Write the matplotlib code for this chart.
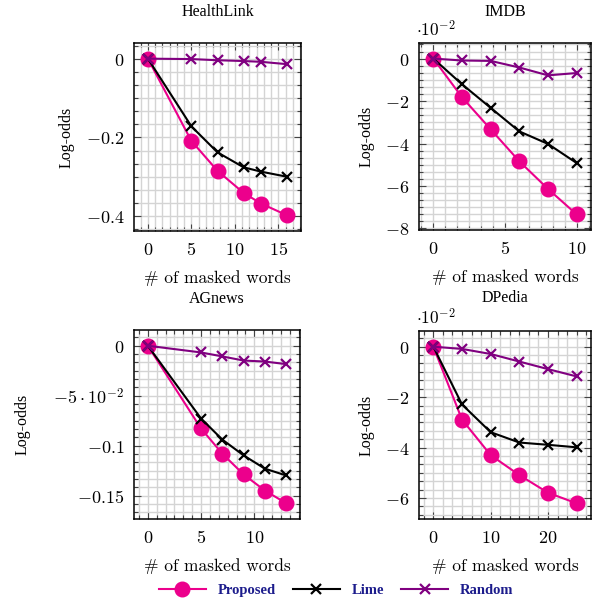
import matplotlib
matplotlib.use("Agg")
import matplotlib.pyplot as plt
from matplotlib.ticker import MultipleLocator, AutoMinorLocator, FuncFormatter
from matplotlib.lines import Line2D

plt.rcParams['mathtext.fontset'] = 'cm'
plt.rcParams['axes.unicode_minus'] = True

# data
health_x = [0, 5, 8, 11, 13, 16]
health_proposed = [0, -0.209, -0.285, -0.341, -0.368, -0.398]
health_lime = [0, -0.172, -0.238, -0.276, -0.287, -0.300]
health_random = [0, -0.001, -0.004, -0.006, -0.008, -0.014]

imdb_x = [0, 2, 4, 6, 8, 10]
imdb_proposed = [0, -0.0182, -0.0333, -0.0484, -0.0614, -0.0734]
imdb_lime = [0, -0.0121, -0.0232, -0.0343, -0.0402, -0.0492]
imdb_random = [0, -0.0009, -0.0011, -0.0042, -0.0079, -0.0068]

ag_x = [0, 5, 7, 9, 11, 13]
ag_proposed = [0, -0.0828, -0.108, -0.1288, -0.1449, -0.1576]
ag_lime = [0, -0.0728, -0.0939, -0.1097, -0.123, -0.1298]
ag_random = [0, -0.0067, -0.0107, -0.0148, -0.0158, -0.0184]

dp_x = [0, 5, 10, 15, 20, 25]
dp_proposed = [0, -0.0289, -0.0430, -0.0509, -0.0579, -0.0621]
dp_lime = [0, -0.0229, -0.0339, -0.0380, -0.0389, -0.0399]
dp_random = [0, -0.0009, -0.0029, -0.0059, -0.0089, -0.0118]

series_names = ['Proposed', 'Lime', 'Random']
colors = {'Proposed': '#ec008c', 'Lime': 'black', 'Random': '#800080'}
legend_color = '#1c1c8c'

W, H = 595, 602
fig = plt.figure(figsize=(W / 100, H / 100), dpi=100)

serif = 'Liberation Serif'
LW = 1.5
PROP_MS = 10.5
X_MS = 6.5


def add_axes(px_left, px_top, px_right, px_bottom):
    return fig.add_axes([px_left / W, 1 - px_bottom / H,
                         (px_right - px_left) / W, (px_bottom - px_top) / H])


def draw_panel(ax, title, title_y, ylabel_x, x, proposed, lime, random,
               xstep, ystep, yfmt, scaled=False):
    ax.plot(x, proposed, color=colors['Proposed'], lw=LW, marker='o',
            ms=PROP_MS, zorder=3)
    ax.plot(x, lime, color=colors['Lime'], lw=LW, marker='x',
            ms=X_MS, mew=1.6, zorder=4)
    ax.plot(x, random, color=colors['Random'], lw=LW, marker='x',
            ms=X_MS, mew=1.6, zorder=5)

    # pgfplots-like enlarged limits (10% of range on each side)
    xr = max(x) - min(x)
    ax.set_xlim(min(x) - 0.1 * xr, max(x) + 0.1 * xr)
    ymin = min(proposed + lime + random)
    yr = 0 - ymin
    ax.set_ylim(ymin - 0.1 * yr, 0.1 * yr)

    ax.xaxis.set_major_locator(MultipleLocator(xstep))
    ax.yaxis.set_major_locator(MultipleLocator(ystep))
    ax.xaxis.set_minor_locator(AutoMinorLocator(6))
    ax.yaxis.set_minor_locator(AutoMinorLocator(6))
    ax.yaxis.set_major_formatter(FuncFormatter(yfmt))
    ax.xaxis.set_major_formatter(FuncFormatter(lambda v, p: r'$%d$' % round(v)))

    ax.grid(True, which='both', color='#d4d4d4', lw=1.0, zorder=0)
    ax.set_axisbelow(True)
    ax.tick_params(which='both', direction='in', top=True, right=True,
                   color='#444444', labelsize=13)
    ax.tick_params(which='major', length=5, width=0.8, pad=7)
    ax.tick_params(which='minor', length=3, width=0.8)
    for s in ax.spines.values():
        s.set_linewidth(1.1)

    # title placed at a fixed pixel height like the reference
    pos = ax.get_position()
    fig.text((pos.x0 + pos.x1) / 2, 1 - title_y / H, title, fontfamily=serif,
             fontsize=11.5, ha='center', va='center')
    ax.set_xlabel('# of masked words', fontfamily='cmr10', fontsize=12.5, labelpad=8)
    ax.set_ylabel('Log-odds', fontfamily=serif, fontsize=11.5)
    ax.yaxis.set_label_coords((ylabel_x / W - pos.x0) / pos.width, 0.5)
    if scaled:
        ax.text(-0.02, 1.015, r'$\cdot 10^{-2}$', transform=ax.transAxes,
                fontsize=12.5, ha='left', va='bottom')


def fmt_plain(v, p):
    if abs(v) < 1e-9:
        return r'$0$'
    return r'$%g$' % round(v, 3)


def fmt_scaled(v, p):
    return r'$%d$' % round(v / 1e-2)


def fmt_ag(v, p):
    if abs(v) < 1e-9:
        return r'$0$'
    if abs(v + 0.05) < 1e-9:
        return r'$-5\cdot 10^{-2}$'
    return r'$%g$' % round(v, 3)


ax1 = add_axes(134, 43, 301, 231)
draw_panel(ax1, 'HealthLink', 12, 75, health_x, health_proposed, health_lime,
           health_random, 5, 0.2, fmt_plain)

ax2 = add_axes(419, 43, 591, 230)
draw_panel(ax2, 'IMDB', 12, 375, imdb_x, imdb_proposed, imdb_lime, imdb_random,
           5, 0.02, fmt_scaled, scaled=True)

ax3 = add_axes(134, 330, 300, 519)
draw_panel(ax3, 'AGnews', 299, 31, ag_x, ag_proposed, ag_lime, ag_random,
           5, 0.05, fmt_ag)

ax4 = add_axes(419, 331, 591, 519)
draw_panel(ax4, 'DPedia', 298, 375, dp_x, dp_proposed, dp_lime, dp_random,
           10, 0.02, fmt_scaled, scaled=True)

handles = [
    Line2D([], [], color=colors['Proposed'], lw=LW, marker='o', ms=PROP_MS),
    Line2D([], [], color=colors['Lime'], lw=LW, marker='x', ms=X_MS, mew=1.6),
    Line2D([], [], color=colors['Random'], lw=LW, marker='x', ms=X_MS, mew=1.6),
]
leg = fig.legend(handles, series_names, loc='center', bbox_to_anchor=(0.565, 1 - 590 / H),
                 ncol=3, frameon=False, handlelength=3.2, columnspacing=1.2,
                 prop={'family': serif, 'weight': 'bold', 'size': 10.5})
for t in leg.get_texts():
    t.set_color(legend_color)

fig.savefig('out.png', dpi=100)
